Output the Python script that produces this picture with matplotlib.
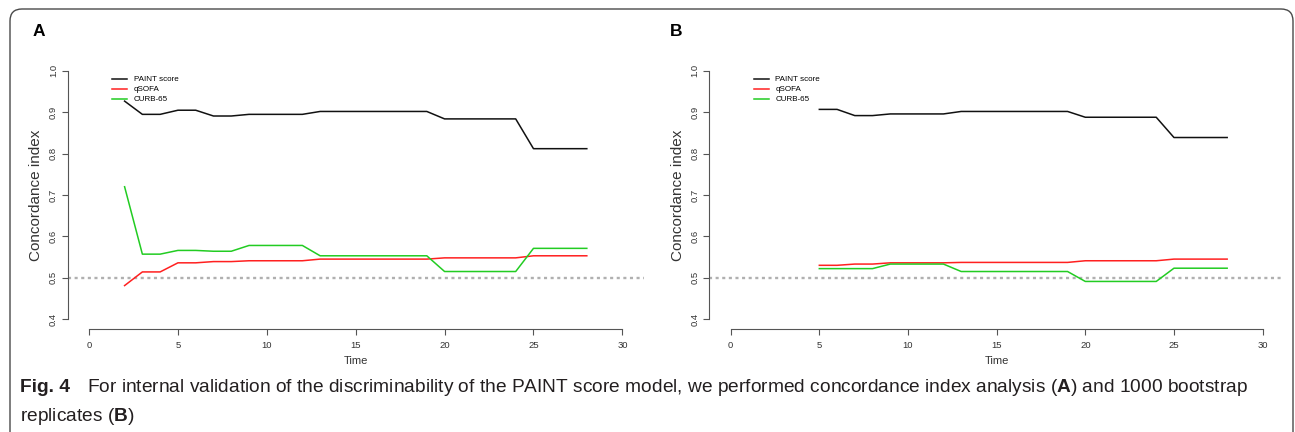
"""Fig. 4 — concordance index over time, panels A (internal validation) and B (bootstrap)."""
import matplotlib
matplotlib.use("Agg")
import matplotlib.pyplot as plt  # noqa: E402
from matplotlib.patches import FancyBboxPatch  # noqa: E402

W, H = 1295, 432
AXIS, TXT, CAP = "#555555", "#333333", "#231f20"
SERIES = ["PAINT score", "qSOFA", "CURB-65"]
COLORS = ["#111111", "#ff2020", "#22cc22"]

# panel A: times 2..28
time_a = [2, 3, 4, 5, 6, 7, 8, 9, 10, 11, 12, 13, 14, 15, 16, 17, 18, 19, 20,
          21, 22, 23, 24, 25, 26, 27, 28]
paint_a = [0.927, 0.895, 0.895, 0.905, 0.905, 0.891, 0.891, 0.895, 0.895, 0.895,
           0.895, 0.902, 0.902, 0.902, 0.902, 0.902, 0.902, 0.902, 0.884, 0.884,
           0.884, 0.884, 0.884, 0.812, 0.812, 0.812, 0.812]
qsofa_a = [0.481, 0.514, 0.514, 0.536, 0.536, 0.539, 0.539, 0.541, 0.541, 0.541,
           0.541, 0.545, 0.545, 0.545, 0.545, 0.545, 0.545, 0.545, 0.548, 0.548,
           0.548, 0.548, 0.548, 0.553, 0.553, 0.553, 0.553]
curb_a = [0.720, 0.557, 0.557, 0.566, 0.566, 0.564, 0.564, 0.578, 0.578, 0.578,
          0.578, 0.553, 0.553, 0.553, 0.553, 0.553, 0.553, 0.553, 0.515, 0.515,
          0.515, 0.515, 0.515, 0.571, 0.571, 0.571, 0.571]

# panel B: times 5..28
time_b = [5, 6, 7, 8, 9, 10, 11, 12, 13, 14, 15, 16, 17, 18, 19, 20, 21, 22, 23,
          24, 25, 26, 27, 28]
paint_b = [0.907, 0.907, 0.892, 0.892, 0.896, 0.896, 0.896, 0.896, 0.902, 0.902,
           0.902, 0.902, 0.902, 0.902, 0.902, 0.888, 0.888, 0.888, 0.888, 0.888,
           0.839, 0.839, 0.839, 0.839]
qsofa_b = [0.530, 0.530, 0.533, 0.533, 0.536, 0.536, 0.536, 0.536, 0.537, 0.537,
           0.537, 0.537, 0.537, 0.537, 0.537, 0.541, 0.541, 0.541, 0.541, 0.541,
           0.545, 0.545, 0.545, 0.545]
curb_b = [0.522, 0.522, 0.522, 0.522, 0.533, 0.533, 0.533, 0.533, 0.515, 0.515,
          0.515, 0.515, 0.515, 0.515, 0.515, 0.491, 0.491, 0.491, 0.491, 0.491,
          0.523, 0.523, 0.523, 0.523]

x_ticks = [0, 5, 10, 15, 20, 25, 30]
y_ticks = [0.4, 0.5, 0.6, 0.7, 0.8, 0.9, 1.0]
reference = 0.5

plt.rcParams["font.family"] = ["Liberation Sans", "DejaVu Sans"]
plt.rcParams["mathtext.fontset"] = "custom"
plt.rcParams["mathtext.bf"] = "Liberation Sans:bold"
plt.rcParams["mathtext.rm"] = "Liberation Sans"
fig = plt.figure(figsize=(W / 100, H / 100), dpi=100)


def px_axes(x0, x1, y_top, y_bot):
    return fig.add_axes([x0 / W, 1 - y_bot / H, (x1 - x0) / W, (y_bot - y_top) / H])


def panel(ax, t, series, letter, letter_x):
    for ys, name, c in zip(series, SERIES, COLORS):
        ax.plot(t, ys, color=c, lw=1.1, label=name, solid_joinstyle="round")
    ax.axhline(reference, color="#b0b0b0", lw=1.7, ls=(0, (1.3, 1.5)), zorder=0)
    ax.set_xlim(-1.2, 31.2)
    ax.set_ylim(0.376, 1.024)
    ax.set_xticks(x_ticks)
    ax.set_yticks(y_ticks)
    ax.set_yticklabels([f"{v:.1f}" for v in y_ticks], rotation=90, va="center")
    ax.tick_params(colors=AXIS, labelcolor=TXT, labelsize=6.8, length=4, width=0.8,
                   direction="out")
    ax.tick_params(axis="x", pad=5)
    ax.tick_params(axis="y", pad=3)
    for sp in ("top", "right"):
        ax.spines[sp].set_visible(False)
    ax.spines["left"].set_bounds(0.4, 1.0)
    ax.spines["bottom"].set_bounds(0, 30)
    for sp in ("left", "bottom"):
        ax.spines[sp].set_color(AXIS)
        ax.spines[sp].set_linewidth(0.8)
    ax.set_xlabel("Time", fontsize=8, color=TXT, labelpad=4)
    ax.set_ylabel("Concordance index", fontsize=11, color=TXT, labelpad=4)
    ax.legend(loc="upper left", bbox_to_anchor=(0.077, 0.945), frameon=False,
              fontsize=5.8, handlelength=1.9, handletextpad=0.8, borderpad=0,
              borderaxespad=0, labelspacing=0.3)
    fig.text(letter_x / W, 1 - 32 / H, letter, fontsize=12.5, fontweight="bold",
             ha="center", va="center", color="black")


ax_a = px_axes(67.7, 643.7, 61, 329)
panel(ax_a, time_a, [paint_a, qsofa_a, curb_a], "A", 39)
ax_b = px_axes(709.4, 1283.9, 61, 329)
panel(ax_b, time_b, [paint_b, qsofa_b, curb_b], "B", 676)

# caption
CAP_SIZE = 13.8
fig.text(20 / W, 1 - 392 / H, "Fig. 4", fontsize=CAP_SIZE, fontweight="bold",
         color=CAP, va="baseline")
fig.text(87 / W, 1 - 392 / H,
         "For internal validation of the discriminability of the PAINT score model, "
         "we performed concordance index analysis ($\\mathbf{A}$) and 1000 bootstrap",
         fontsize=CAP_SIZE, color=CAP, va="baseline")
fig.text(20 / W, 1 - 421 / H, "replicates ($\\mathbf{B}$)", fontsize=CAP_SIZE,
         color=CAP, va="baseline")

# rounded frame round the whole figure, in pixels (display coords)
frame = FancyBboxPatch((10, -30), 1283, 432 - 9 + 30,
                       boxstyle="round,pad=0,rounding_size=12",
                       transform=None, fill=False, ec="#4a4a4a", lw=1.0)
fig.patches.append(frame)

fig.savefig("out.png", dpi=100, facecolor="white")
